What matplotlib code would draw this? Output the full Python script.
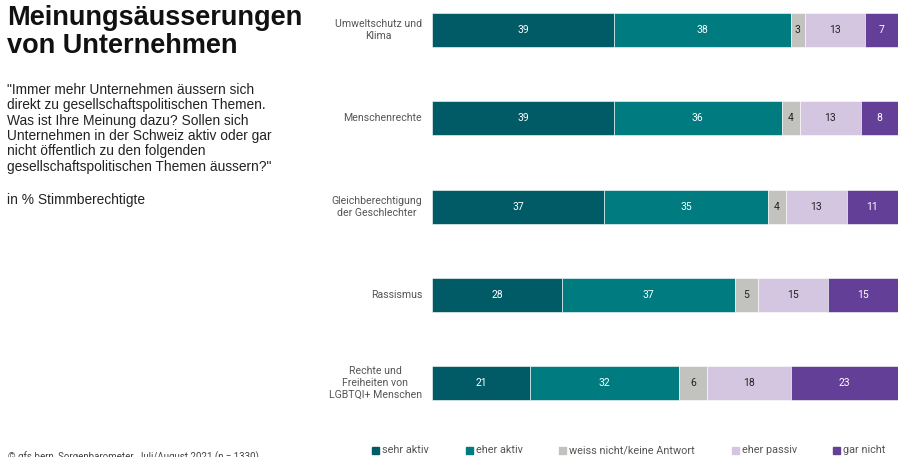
import matplotlib.pyplot as plt
from matplotlib import font_manager
import numpy as np

# data
categories = ["Umweltschutz und\nKlima", "Menschenrechte",
              "Gleichberechtigung\nder Geschlechter", "Rassismus",
              "Rechte und\nFreiheiten von\nLGBTQI+ Menschen"]
series_names = ["sehr aktiv", "eher aktiv", "weiss nicht/keine Antwort",
                "eher passiv", "gar nicht"]
sehr_aktiv = [39, 39, 37, 28, 21]
eher_aktiv = [38, 36, 35, 37, 32]
weiss_nicht = [3, 4, 4, 5, 6]
eher_passiv = [13, 13, 13, 15, 18]
gar_nicht = [7, 8, 11, 15, 23]

colors = ["#005b66", "#007b80", "#c2c2be", "#d4c6e1", "#643f97"]
text_colors = ["white", "white", "#222222", "#222222", "white"]

values = [sehr_aktiv, eher_aktiv, weiss_nicht, eher_passiv, gar_nicht]


def find_font(name):
    for f in font_manager.findSystemFonts():
        if f.endswith(name):
            return f
    return None


reg_file = find_font("LiberationSans-Regular.ttf")
bold_file = find_font("LiberationSans-Bold.ttf")
fp_title = font_manager.FontProperties(fname=bold_file) if bold_file else \
    font_manager.FontProperties(family="DejaVu Sans", weight="bold")
fp_text = font_manager.FontProperties(fname=reg_file) if reg_file else \
    font_manager.FontProperties(family="DejaVu Sans")

fig = plt.figure(figsize=(8.98, 4.57), dpi=100)
ax = fig.add_axes([432 / 898, 1 - 410 / 457, 1 - 432 / 898, 400 / 457])

y = np.arange(len(categories))
left = np.zeros(len(categories))
lab_font = "Roboto"
for vals, col, tcol, name in zip(values, colors, text_colors, series_names):
    vals = np.array(vals)
    ax.barh(y, vals, left=left, height=0.385, color=col, edgecolor="white",
            linewidth=0.4, label=name)
    for yi, l, v in zip(y, left, vals):
        ax.text(l + v / 2, yi, str(v), ha="center", va="center",
                color=tcol, fontsize=7.5, family=lab_font)
    left += vals

ax.set_xlim(0, 100)
ax.set_ylim(4.306, -0.227)
ax.axis("off")

for yi, c in zip(y, categories):
    fig.text(422 / 898, 1 - (30 + yi * 88.25) / 457, c, ha="right", va="center",
             multialignment="center", fontsize=7.6, color="#555555",
             family=lab_font, linespacing=1.25)

# left text block
fp_title.set_size(19.5)
fig.text(7 / 898, 1 - 5 / 457, "Meinungsäusserungen\nvon Unternehmen", ha="left", va="top",
         fontproperties=fp_title, color="#111111", linespacing=1.1)
question = ('"Immer mehr Unternehmen äussern sich\n'
            'direkt zu gesellschaftspolitischen Themen.\n'
            'Was ist Ihre Meinung dazu? Sollen sich\n'
            'Unternehmen in der Schweiz aktiv oder gar\n'
            'nicht öffentlich zu den folgenden\n'
            'gesellschaftspolitischen Themen äussern?"')
fp_q = fp_text.copy()
fp_q.set_size(9.9)
fig.text(7 / 898, 1 - 83 / 457, question, ha="left", va="top", fontproperties=fp_q,
         color="#222222", linespacing=1.12)
fig.text(7 / 898, 1 - 193 / 457, "in % Stimmberechtigte", ha="left", va="top",
         fontproperties=fp_q, color="#222222")

# legend
leg_x = [372, 466, 559, 732, 833]
for lx, col, name in zip(leg_x, colors, series_names):
    fig.patches.append(plt.Rectangle((lx / 898, 1 - 454 / 457), 7 / 898, 7 / 457,
                                     transform=fig.transFigure, color=col))
    fig.text((lx + 10) / 898, 1 - 450 / 457, name, ha="left", va="center",
             fontsize=7.8, color="#555555", family=lab_font)

fig.text(8 / 898, 1 - 451 / 457, "© gfs.bern, Sorgenbarometer, Juli/August 2021 (n = 1330)",
         ha="left", va="top", fontsize=7, color="#444444", family=lab_font)

fig.savefig("out.png", dpi=100)
